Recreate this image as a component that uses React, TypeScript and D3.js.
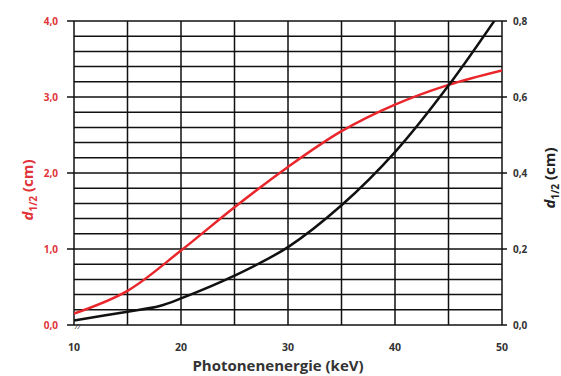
import React, { useRef, useEffect } from "react";
import * as d3 from "d3";

const energy = [10, 15, 20, 25, 30, 35, 40, 45, 50];
const redValues = [0.15, 0.45, 0.98, 1.55, 2.08, 2.55, 2.9, 3.16, 3.35];
const blackEnergy = [10, 15, 18, 20, 25, 30, 35, 40, 45, 50];
const blackValues = [0.012, 0.035, 0.05, 0.07, 0.13, 0.205, 0.315, 0.455, 0.63, 0.83];
const xTicks = [10, 20, 30, 40, 50];
const leftTicks = [0, 1, 2, 3, 4];
const rightTicks = [0, 0.2, 0.4, 0.6, 0.8];

const App = () => {
  const svgRef = useRef<SVGSVGElement>(null);

  useEffect(() => {
    const svg = d3.select(svgRef.current);
    svg.selectAll("*").remove();

    const width = 561;
    const height = 376;
    const margin = { top: 21, right: 59, bottom: 51, left: 74 };
    const font = "'Open Sans', 'DejaVu Sans', sans-serif";

    const x = d3.scaleLinear().domain([10, 50]).range([margin.left, width - margin.right]);
    const yL = d3.scaleLinear().domain([0, 4]).range([height - margin.bottom, margin.top]);
    const yR = d3.scaleLinear().domain([0, 0.8]).range([height - margin.bottom, margin.top]);

    const grid = svg.append("g").attr("stroke", "#111").attr("stroke-width", 1.5);
    grid
      .selectAll("line.h")
      .data(d3.range(0, 4.001, 0.2))
      .join("line")
      .attr("x1", x(10))
      .attr("x2", x(50))
      .attr("y1", (d) => yL(d))
      .attr("y2", (d) => yL(d));
    grid
      .selectAll("line.v")
      .data(d3.range(10, 50.001, 5))
      .join("line")
      .attr("x1", (d) => x(d))
      .attr("x2", (d) => x(d))
      .attr("y1", yL(0))
      .attr("y2", yL(4));

    // major ticks on both sides
    svg
      .append("g")
      .selectAll("line")
      .data(leftTicks)
      .join("line")
      .attr("x1", x(10) - 7)
      .attr("x2", x(10))
      .attr("y1", (d) => yL(d))
      .attr("y2", (d) => yL(d))
      .attr("stroke", "#111")
      .attr("stroke-width", 1.5);
    svg
      .append("g")
      .selectAll("line")
      .data(rightTicks)
      .join("line")
      .attr("x1", x(50))
      .attr("x2", x(50) + 5)
      .attr("y1", (d) => yR(d))
      .attr("y2", (d) => yR(d))
      .attr("stroke", "#111")
      .attr("stroke-width", 1.5);

    svg
      .append("g")
      .selectAll("text")
      .data(leftTicks)
      .join("text")
      .attr("x", 58)
      .attr("y", (d) => yL(d) + 3.5)
      .attr("text-anchor", "end")
      .attr("font-family", font)
      .attr("font-size", 10)
      .attr("font-weight", "bold")
      .attr("fill", "#e0343a")
      .text((d) => d3.format(".1f")(d).replace(".", ","));

    svg
      .append("g")
      .selectAll("text")
      .data(rightTicks)
      .join("text")
      .attr("x", 513)
      .attr("y", (d) => yR(d) + 3.5)
      .attr("font-family", font)
      .attr("font-size", 10)
      .attr("font-weight", "bold")
      .attr("fill", "#333")
      .text((d) => d3.format(".1f")(d).replace(".", ","));

    svg
      .append("g")
      .selectAll("text")
      .data(xTicks)
      .join("text")
      .attr("x", (d) => x(d))
      .attr("y", 351)
      .attr("text-anchor", "middle")
      .attr("font-family", font)
      .attr("font-size", 10.5)
      .attr("font-weight", "bold")
      .attr("fill", "#333")
      .text((d) => d);

    svg
      .append("text")
      .attr("x", 278)
      .attr("y", 371)
      .attr("text-anchor", "middle")
      .attr("font-family", font)
      .attr("font-size", 15)
      .attr("font-weight", "bold")
      .attr("fill", "#333")
      .text("Photonenenergie (keV)");

    const axisLabel = (tx: number, cy: number, color: string) => {
      const t = svg
        .append("text")
        .attr("transform", `translate(${tx},${cy}) rotate(-90)`)
        .attr("text-anchor", "middle")
        .attr("font-family", font)
        .attr("font-size", 15)
        .attr("font-weight", "bold")
        .attr("fill", color);
      t.append("tspan").attr("font-style", "italic").text("d");
      t.append("tspan").attr("font-size", 10).attr("dy", 4).text("1/2");
      t.append("tspan").attr("dy", -4).text(" (cm)");
    };
    axisLabel(33, 190, "#e0343a");
    axisLabel(555, 178, "#222");

    // axis break mark
    svg
      .append("text")
      .attr("x", x(10) + 1)
      .attr("y", yL(0) + 4)
      .attr("font-family", font)
      .attr("font-size", 8)
      .attr("font-style", "italic")
      .attr("fill", "#333")
      .text("//");

    svg
      .append("clipPath")
      .attr("id", "plot-clip")
      .append("rect")
      .attr("x", x(10))
      .attr("y", yL(4))
      .attr("width", x(50) - x(10))
      .attr("height", yL(0) - yL(4));

    const redLine = d3
      .line<number>()
      .x((d, i) => x(energy[i]))
      .y((d) => yL(d))
      .curve(d3.curveCatmullRom.alpha(0.5));
    const blackLine = d3
      .line<number>()
      .x((d, i) => x(blackEnergy[i]))
      .y((d) => yR(d))
      .curve(d3.curveCatmullRom.alpha(0.5));

    const curves = svg.append("g").attr("clip-path", "url(#plot-clip)");
    curves
      .append("path")
      .attr("d", redLine(redValues))
      .attr("fill", "none")
      .attr("stroke", "#e8262b")
      .attr("stroke-width", 2.5);
    curves
      .append("path")
      .attr("d", blackLine(blackValues))
      .attr("fill", "none")
      .attr("stroke", "#111")
      .attr("stroke-width", 2.5);
  }, []);

  return <svg ref={svgRef} width={561} height={376} style={{ position: "absolute", left: 0, top: 0 }}></svg>;
};

export default App;
